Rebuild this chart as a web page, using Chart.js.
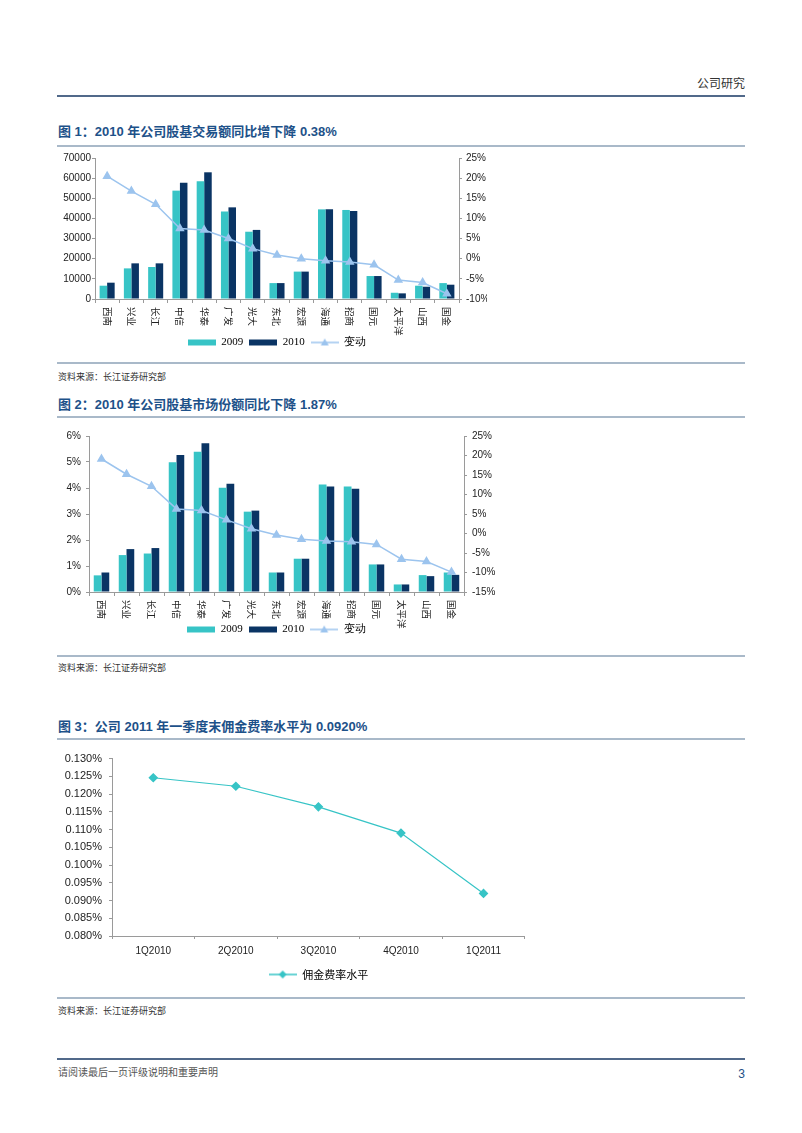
<!DOCTYPE html>
<html>
<head>
<meta charset="utf-8">
<script src="https://cdn.jsdelivr.net/npm/chart.js@4.4.1/dist/chart.umd.min.js"></script>
<style>
  body { margin: 0; background: #fff; width: 802px; height: 1133px; position: relative; overflow: hidden;
         font-family: "Liberation Sans", "Noto Sans CJK SC", sans-serif; }
  .rule { position: absolute; left: 57px; width: 688px; height: 2px; background: #a9b9c9; }
  .rule.dark { background: #51698a; height: 2px; }
  .title { position: absolute; left: 58px; font-size: 13px; font-weight: bold; color: #1d5189; line-height: 16px; white-space: nowrap; }
  .src { position: absolute; left: 58px; font-size: 9px; color: #333; line-height: 12px; }
  canvas { position: absolute; }
</style>
</head>
<body>

<div style="position:absolute;left:640px;width:105px;top:75px;text-align:right;font-size:12px;color:#333;line-height:16px;font-family:'Noto Sans CJK SC'">公司研究</div>
<div class="rule dark" style="top:95px"></div>

<div class="title" style="top:124px">图 1：2010 年公司股基交易额同比增下降 0.38%</div>
<div class="rule" style="top:145px"></div>
<canvas id="chart1" width="432" height="210" style="left:55px;top:148px"></canvas>
<div class="rule" style="top:362px"></div>
<div class="src" style="top:371px">资料来源：长江证券研究部</div>

<div class="title" style="top:397px">图 2：2010 年公司股基市场份额同比下降 1.87%</div>
<div class="rule" style="top:416px"></div>
<canvas id="chart2" width="440" height="220" style="left:55px;top:425px"></canvas>
<div class="rule" style="top:655px"></div>
<div class="src" style="top:662px">资料来源：长江证券研究部</div>

<div class="title" style="top:719px">图 3：公司 2011 年一季度末佣金费率水平为 0.0920%</div>
<div class="rule" style="top:738px"></div>
<canvas id="chart3" width="475" height="245" style="left:55px;top:745px"></canvas>
<div class="rule" style="top:997px"></div>
<div class="src" style="top:1005px">资料来源：长江证券研究部</div>

<div class="rule dark" style="top:1058px"></div>
<div style="position:absolute;left:58px;top:1065px;font-size:10px;color:#555;line-height:14px;font-family:'Noto Sans CJK SC'">请阅读最后一页评级说明和重要声明</div>
<div style="position:absolute;left:730px;width:15px;text-align:right;top:1066px;font-size:12px;color:#1d4f86;line-height:16px">3</div>

<script>
// data
const brokers = ['西南', '兴业', '长江', '中信', '华泰', '广发', '光大', '东北', '宏源', '海通', '招商', '国元', '太平洋', '山西', '国金'];

// 图1: 股基交易额 (left axis) and 变动 % (right axis)
const turnover2009 = [6600, 15200, 15900, 53800, 58400, 43400, 33400, 7900, 13600, 44500, 44200, 11400, 3100, 6600, 7900];
const turnover2010 = [8100, 17700, 17700, 57700, 62900, 45500, 34300, 7900, 13600, 44500, 43700, 11400, 2800, 6100, 7100];
const turnoverChange = [20.5, 16.8, 13.5, 7.5, 7.1, 5.0, 2.5, 0.9, 0, -0.5, -0.8, -1.5, -5.3, -5.9, -8.7];

// 图2: 市场份额 % (left axis) and 变动 % (right axis)
const share2009 = [0.64, 1.42, 1.48, 4.99, 5.39, 4.01, 3.09, 0.75, 1.28, 4.13, 4.06, 1.06, 0.29, 0.65, 0.75];
const share2010 = [0.75, 1.65, 1.69, 5.27, 5.72, 4.16, 3.13, 0.75, 1.28, 4.06, 3.97, 1.06, 0.29, 0.61, 0.66];
const shareChange = [19.1, 15.2, 12.1, 6.3, 5.9, 3.5, 1.2, -0.4, -1.5, -1.9, -2.1, -2.8, -6.6, -7.2, -9.9];

// 图3: 佣金费率水平 %
const quarters = ['1Q2010', '2Q2010', '3Q2010', '4Q2010', '1Q2011'];
const commissionRate = [0.1246, 0.1222, 0.1164, 0.1090, 0.0920];

const turquoise = '#37c4c6';
const navy = '#0a3464';
const lightBlue = '#9cc4ee';
const axisGray = '#9a9a9a';
const tickFont = { family: 'Liberation Sans', size: 10 };

// small canvases used as legend symbols
function swatch(kind, color) {
    const c = document.createElement('canvas');
    c.width = 28; c.height = 10;
    const g = c.getContext('2d');
    g.fillStyle = color; g.strokeStyle = color;
    if (kind === 'box') {
        g.fillRect(0, 2, 28, 6);
    } else {
        g.lineWidth = 1.5;
        g.beginPath(); g.moveTo(0, 5); g.lineTo(28, 5); g.stroke();
        g.beginPath();
        if (kind === 'triangle') {
            g.moveTo(14, 1); g.lineTo(18, 8); g.lineTo(10, 8);
        } else {
            g.moveTo(14, 1); g.lineTo(18, 5); g.lineTo(14, 9); g.lineTo(10, 5);
        }
        g.closePath(); g.fill();
    }
    return c;
}

function legendOpts(symbols, family) {
    return {
        position: 'bottom',
        fullSize: false,
        labels: {
            usePointStyle: true,
            pointStyleWidth: 28,
            padding: 6,
            color: '#222',
            font: { family: family, size: 11 },
            generateLabels: chart => chart.data.datasets.map((ds, i) => ({
                text: ds.label, pointStyle: symbols[i], fillStyle: 'transparent',
                strokeStyle: 'transparent', lineWidth: 0, hidden: false, datasetIndex: i
            }))
        }
    };
}

// x labels turned a quarter clockwise, as in the reference
const verticalLabels = {
    id: 'verticalLabels',
    afterDraw(chart) {
        const xs = chart.scales.x;
        const ctx = chart.ctx;
        ctx.save();
        ctx.font = '9.5px "Noto Sans CJK SC"';
        ctx.fillStyle = '#222';
        ctx.textAlign = 'left';
        ctx.textBaseline = 'middle';
        chart.data.labels.forEach((lab, i) => {
            ctx.save();
            ctx.translate(xs.getPixelForTick(i), xs.top + 8);
            ctx.rotate(Math.PI / 2);
            ctx.fillText(lab, 0, 0);
            ctx.restore();
        });
        ctx.restore();
    }
};

function axisGrid(len) {
    return { drawOnChartArea: false, tickLength: len, color: axisGray };
}

function comboChart(id, y2009, y2010, change, yAxis, y1Axis, sizes) {
    return new Chart(document.getElementById(id), {
        type: 'bar',
        data: {
            labels: brokers,
            datasets: [
                { label: '2009', data: y2009, backgroundColor: turquoise, yAxisID: 'y', order: 1,
                  categoryPercentage: 0.62, barPercentage: 1 },
                { label: '2010', data: y2010, backgroundColor: navy, yAxisID: 'y', order: 1,
                  categoryPercentage: 0.62, barPercentage: 1 },
                { type: 'line', label: '变动', data: change, yAxisID: 'y1', order: 0,
                  borderColor: lightBlue, backgroundColor: lightBlue, borderWidth: 1.5,
                  pointStyle: 'triangle', pointRadius: 4 }
            ]
        },
        options: {
            responsive: false,
            animation: false,
            layout: { padding: { top: 10 } },
            plugins: {
                legend: legendOpts([swatch('box', turquoise), swatch('box', navy), swatch('triangle', lightBlue)],
                                   'Liberation Serif'),
                tooltip: { enabled: false }
            },
            scales: {
                x: {
                    grid: { offset: true, drawOnChartArea: false, tickLength: 4, color: axisGray },
                    border: { color: axisGray },
                    ticks: { display: false },
                    afterFit: s => { s.height = sizes.xh; }
                },
                y: Object.assign({
                    position: 'left',
                    grid: axisGrid(3),
                    border: { color: axisGray },
                    afterFit: s => { s.width = sizes.yw; }
                }, yAxis),
                y1: Object.assign({
                    position: 'right',
                    grid: axisGrid(3),
                    border: { color: axisGray },
                    afterFit: s => { s.width = sizes.y1w; }
                }, y1Axis)
            }
        },
        plugins: [verticalLabels]
    });
}

comboChart('chart1', turnover2009, turnover2010, turnoverChange,
    { min: 0, max: 70000, ticks: { stepSize: 10000, font: tickFont, color: '#222', padding: 1, callback: v => v } },
    { min: -10, max: 25, ticks: { stepSize: 5, font: tickFont, color: '#222', padding: 4, callback: v => v + '%' } },
    { xh: 32, yw: 40, y1w: 28 });

comboChart('chart2', share2009, share2010, shareChange,
    { min: 0, max: 6, ticks: { stepSize: 1, font: tickFont, color: '#222', padding: 5, callback: v => v + '%' } },
    { min: -15, max: 25, ticks: { stepSize: 5, font: tickFont, color: '#222', padding: 5, callback: v => v + '%' } },
    { xh: 26, yw: 34, y1w: 31 });

new Chart(document.getElementById('chart3'), {
    type: 'line',
    data: {
        labels: quarters,
        datasets: [{
            label: '佣金费率水平', data: commissionRate,
            borderColor: turquoise, backgroundColor: turquoise, borderWidth: 1.2,
            pointStyle: 'rectRot', pointRadius: 4
        }]
    },
    options: {
        responsive: false,
        animation: false,
        layout: { padding: { top: 10, right: 5 } },
        plugins: {
            legend: legendOpts([swatch('diamond', turquoise)], 'Noto Sans CJK SC'),
            tooltip: { enabled: false }
        },
        scales: {
            x: {
                offset: true,
                grid: { offset: true, drawOnChartArea: false, tickLength: 3, color: axisGray },
                border: { color: axisGray },
                ticks: { font: tickFont, color: '#222', padding: 6, maxRotation: 0 },
                afterFit: s => { s.height = 27; }
            },
            y: {
                min: 0.08, max: 0.13,
                grid: axisGrid(3),
                border: { color: axisGray },
                ticks: { stepSize: 0.005, font: { family: 'Liberation Sans', size: 11 }, color: '#222', padding: 7,
                         callback: v => v.toFixed(3) + '%' },
                afterFit: s => { s.width = 57; }
            }
        }
    }
});
</script>
</body>
</html>
